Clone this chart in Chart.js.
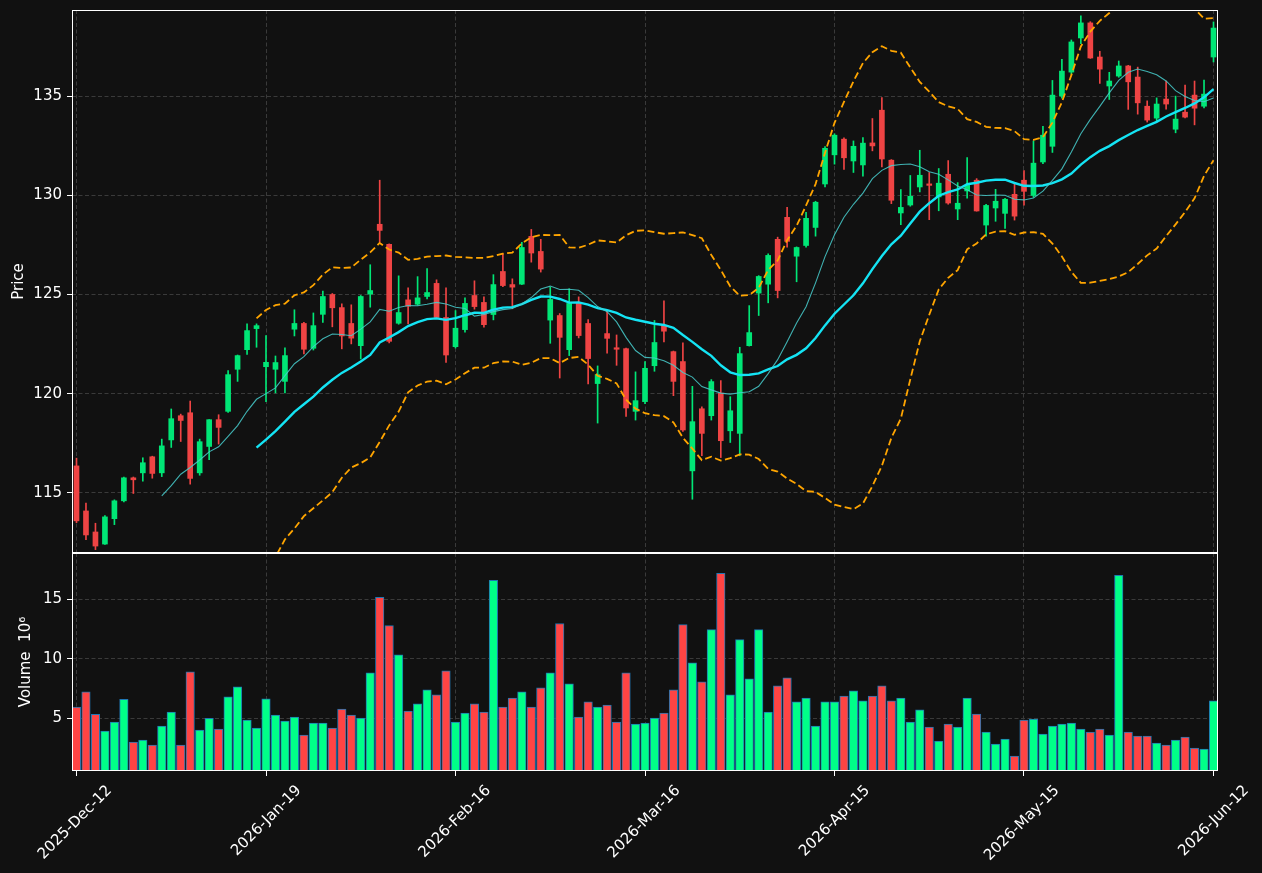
<!DOCTYPE html>
<html>
<head>
<meta charset="utf-8">
<script src="https://cdn.jsdelivr.net/npm/chart.js@4.4.1/dist/chart.umd.min.js"></script>
<style>
html, body { margin: 0; padding: 0; background: #111111; }
body { width: 1262px; height: 873px; position: relative; overflow: hidden; }
canvas { position: absolute; left: 0; }
#price { top: 0; width: 1262px; height: 553px; }
#vol { top: 553px; width: 1262px; height: 320px; }
</style>
</head>
<body>
<canvas id="price" width="1262" height="553"></canvas>
<canvas id="vol" width="1262" height="320"></canvas>
<script>
// ---- data ----
const tickLabels = ['2025-Dec-12', '2026-Jan-19', '2026-Feb-16', '2026-Mar-16', '2026-Apr-15', '2026-May-15', '2026-Jun-12'];
const tickIndex = [0, 20, 40, 60, 80, 100, 120];

const opens = [
  116.36, 114.09, 113.03, 112.42, 113.70, 114.60, 115.76, 116.01, 116.82, 116.01,
  117.67, 118.89, 119.04, 116.01, 117.34, 118.69, 119.11, 121.23, 122.22, 123.28,
  121.36, 121.23, 120.62, 123.25, 123.54, 122.29, 124.00, 125.00, 124.34, 123.54,
  122.42, 125.02, 128.54, 127.53, 123.55, 124.73, 124.51, 124.90, 125.56, 123.84,
  122.37, 123.23, 124.95, 124.60, 123.99, 126.16, 125.50, 125.52, 127.93, 127.17,
  123.71, 123.94, 122.22, 124.60, 123.54, 120.51, 123.03, 122.31, 122.27, 119.11,
  119.60, 121.41, 123.43, 122.12, 121.62, 116.11, 119.24, 118.89, 120.03, 118.13,
  118.00, 122.42, 125.07, 125.52, 127.78, 128.89, 126.93, 127.47, 128.38, 130.57,
  132.04, 132.83, 131.73, 131.53, 132.64, 134.29, 131.77, 129.11, 129.51, 130.42,
  130.54, 129.92, 131.06, 129.31, 130.22, 130.76, 128.50, 129.36, 129.09, 130.05,
  130.76, 129.99, 131.68, 132.47, 135.00, 136.21, 137.93, 138.69, 136.97, 135.51,
  136.01, 136.52, 135.96, 134.49, 133.89, 134.85, 133.33, 134.19, 135.05, 134.49,
  136.97
];
const highs = [
  116.75, 114.48, 113.47, 113.85, 114.65, 115.80, 115.80, 116.77, 116.85, 117.71,
  119.23, 118.97, 119.63, 117.71, 118.70, 118.94, 121.16, 121.95, 123.52, 123.52,
  122.93, 121.90, 122.31, 124.23, 123.60, 124.07, 125.17, 125.05, 124.53, 124.48,
  124.95, 126.50, 130.76, 127.55, 125.94, 125.34, 125.90, 126.30, 125.74, 125.34,
  124.19, 124.83, 125.69, 124.88, 126.00, 127.05, 125.79, 127.63, 128.28, 127.78,
  125.37, 124.04, 125.29, 124.88, 123.74, 121.40, 124.16, 122.96, 122.30, 121.10,
  121.62, 123.69, 124.68, 122.15, 122.56, 120.37, 119.34, 120.71, 120.66, 119.85,
  122.34, 124.44, 125.95, 127.05, 127.89, 129.39, 127.40, 129.14, 129.70, 132.45,
  133.10, 132.90, 132.74, 132.91, 133.87, 134.93, 131.80, 130.29, 131.00, 132.27,
  131.15, 131.35, 131.75, 130.64, 131.90, 130.84, 129.55, 130.30, 129.85, 130.59,
  131.25, 132.74, 133.48, 135.79, 136.85, 137.83, 139.04, 138.75, 137.26, 136.20,
  136.77, 136.55, 136.46, 134.76, 134.91, 135.76, 135.00, 135.56, 135.76, 135.81,
  138.74
];
const lows = [
  113.50, 112.64, 112.14, 112.40, 113.40, 114.55, 114.97, 115.59, 115.74, 115.82,
  117.29, 117.59, 115.44, 115.89, 116.68, 117.46, 119.05, 120.62, 121.98, 122.34,
  119.60, 120.04, 120.04, 122.91, 122.00, 122.20, 123.59, 123.37, 122.26, 122.51,
  121.75, 124.36, 127.64, 122.56, 123.50, 123.52, 124.46, 124.78, 123.80, 121.58,
  122.30, 123.10, 124.26, 123.35, 123.72, 125.40, 124.28, 125.50, 126.63, 126.13,
  122.54, 120.79, 121.92, 122.81, 120.49, 118.52, 122.04, 121.43, 118.85, 118.67,
  119.50, 121.13, 122.61, 119.90, 118.10, 114.68, 116.87, 118.67, 116.78, 117.54,
  116.87, 122.40, 123.94, 124.58, 124.83, 127.39, 125.64, 127.39, 127.94, 130.42,
  131.57, 131.30, 131.15, 130.96, 132.24, 131.43, 129.58, 128.52, 129.45, 130.17,
  128.77, 129.22, 129.55, 128.77, 129.86, 129.20, 127.94, 128.69, 128.33, 128.75,
  129.50, 129.90, 131.60, 132.16, 134.90, 136.10, 137.64, 136.90, 135.64, 134.83,
  135.95, 134.33, 134.09, 133.69, 133.74, 134.34, 133.15, 133.90, 133.55, 134.40,
  136.72
];
const closes = [
  113.59, 112.88, 112.32, 113.79, 114.60, 115.76, 115.66, 116.52, 115.98, 117.37,
  118.74, 118.65, 115.73, 117.58, 118.69, 118.30, 120.96, 121.92, 123.18, 123.43,
  121.58, 121.57, 121.92, 123.54, 122.24, 123.43, 124.90, 124.33, 122.91, 122.80,
  124.90, 125.20, 128.23, 122.64, 124.09, 124.41, 124.83, 125.10, 123.84, 121.95,
  123.30, 124.55, 124.39, 123.48, 125.50, 125.45, 125.37, 127.37, 127.09, 126.28,
  124.75, 122.84, 124.55, 122.93, 121.77, 120.96, 122.79, 122.24, 119.28, 119.65,
  121.28, 122.58, 123.15, 120.62, 118.17, 118.59, 118.00, 120.61, 117.63, 119.14,
  122.02, 123.08, 125.91, 126.97, 125.20, 127.68, 127.37, 128.84, 129.65, 132.37,
  133.03, 131.89, 132.47, 132.63, 132.49, 131.83, 129.75, 129.39, 129.95, 131.01,
  130.50, 130.61, 129.61, 129.60, 130.50, 129.21, 129.49, 129.70, 129.80, 128.95,
  130.20, 131.62, 133.03, 135.05, 136.26, 137.73, 138.69, 136.92, 136.36, 135.76,
  136.52, 135.72, 134.66, 133.79, 134.60, 134.60, 133.84, 133.94, 134.39, 135.10,
  138.43
];
const volumes = [
  5.93, 7.20, 5.31, 3.90, 4.66, 6.58, 2.97, 3.14, 2.71, 4.32,
  5.51, 2.71, 8.90, 3.98, 4.97, 4.07, 6.78, 7.63, 4.83, 4.15,
  6.61, 5.25, 4.75, 5.08, 3.56, 4.58, 4.58, 4.15, 5.76, 5.25,
  5.00, 8.81, 15.17, 12.80, 10.34, 5.59, 6.19, 7.37, 6.95, 8.98,
  4.66, 5.42, 6.19, 5.51, 16.61, 5.93, 6.69, 7.20, 5.93, 7.54,
  8.81, 12.97, 7.88, 5.08, 6.36, 5.93, 6.10, 4.66, 8.81, 4.49,
  4.58, 5.00, 5.42, 7.37, 12.88, 9.66, 8.05, 12.46, 17.20, 6.95,
  11.61, 8.31, 12.46, 5.51, 7.71, 8.39, 6.36, 6.69, 4.32, 6.36,
  6.36, 6.86, 7.29, 6.44, 6.86, 7.71, 6.44, 6.69, 4.66, 5.68,
  4.24, 3.05, 4.49, 4.24, 6.69, 5.34, 3.81, 2.80, 3.22, 1.78,
  4.83, 4.92, 3.64, 4.32, 4.49, 4.58, 4.07, 3.81, 4.07, 3.56,
  17.03, 3.81, 3.47, 3.47, 2.88, 2.71, 3.14, 3.39, 2.46, 2.37,
  6.44
];
const priceTicks = [115, 120, 125, 130, 135];
const volumeTicks = [5, 10, 15];
const maShort = 10;
const maLong = 20;

// ---- indicators derived from the closes ----
function rollingMean(arr, n) {
  return arr.map((_, i) => {
    if (i < n - 1) return null;
    let s = 0;
    for (let k = i - n + 1; k <= i; k++) s += arr[k];
    return s / n;
  });
}
function rollingStd(arr, n) {
  const m = rollingMean(arr, n);
  return arr.map((_, i) => {
    if (i < n - 1) return null;
    let s = 0;
    for (let k = i - n + 1; k <= i; k++) s += (arr[k] - m[i]) ** 2;
    return Math.sqrt(s / (n - 1));
  });
}
const ma10 = rollingMean(closes, maShort);
const ma20 = rollingMean(closes, maLong);
const sd20 = rollingStd(closes, maLong);
const bbUpper = ma20.map((m, i) => m === null ? null : m + 2 * sd20[i]);
const bbLower = ma20.map((m, i) => m === null ? null : m - 2 * sd20[i]);

// ---- styling ----
const UP = '#00e676', DOWN = '#ef4444';
const VOL_UP = '#00ff88', VOL_DOWN = '#ff4444';
const GRID = '#3a3a3a';
Chart.defaults.font.family = 'DejaVu Sans';
Chart.defaults.font.size = 15;
Chart.defaults.color = '#ffffff';

const idx = closes.map((_, i) => i);
const isUp = idx.map(i => closes[i] >= opens[i]);
const candleColors = isUp.map(u => u ? UP : DOWN);
const volColors = isUp.map(u => u ? VOL_UP : VOL_DOWN);

const frame = {
  id: 'frame',
  afterDraw(chart) {
    const { ctx, chartArea: a } = chart;
    ctx.save();
    ctx.strokeStyle = '#ffffff';
    ctx.lineWidth = 1;
    ctx.strokeRect(a.left + 0.5, a.top + 0.5, a.right - a.left - 1, a.bottom - a.top - 1);
    ctx.restore();
  }
};

const X_MIN = -0.475, X_MAX = 120.475;

function xScale(showLabels, height) {
  return {
    type: 'linear',
    min: X_MIN, max: X_MAX,
    offset: false,
    afterBuildTicks: s => { s.ticks = tickIndex.map(v => ({ value: v })); },
    afterFit: s => { s.height = height; s.paddingLeft = 0; s.paddingRight = 0; s.paddingTop = 0; s.paddingBottom = 0; },
    grid: {
      offset: false, color: GRID, lineWidth: 1,
      drawTicks: showLabels, tickLength: 5, tickColor: '#ffffff', tickWidth: 1, tickBorderDash: []
    },
    border: { display: false, dash: [4, 2.5] },
    ticks: {
      display: showLabels, autoSkip: false,
      minRotation: 45, maxRotation: 45,
      labelOffset: 33, padding: 6,
      font: { size: 15 }, color: '#ffffff',
      callback: v => tickLabels[tickIndex.indexOf(v)]
    }
  };
}
function yScale(min, max, ticks, title, titlePad) {
  return {
    type: 'linear', position: 'left',
    min: min, max: max,
    afterBuildTicks: s => { s.ticks = ticks.map(v => ({ value: v })); },
    afterFit: s => { s.width = 72; s.paddingTop = 0; s.paddingBottom = 0; s.paddingLeft = 0; s.paddingRight = 0; },
    grid: {
      color: GRID, lineWidth: 1, drawTicks: true, tickLength: 5,
      tickColor: '#ffffff', tickWidth: 1, tickBorderDash: []
    },
    border: { display: false, dash: [4, 2.5] },
    ticks: { padding: 5, color: '#ffffff', font: { size: 15 } },
    title: { display: true, text: title, color: '#ffffff', font: { size: 15 }, padding: { top: titlePad, bottom: 0 } }
  };
}

const common = {
  responsive: false,
  animation: false,
  devicePixelRatio: 1,
  events: [],
  plugins: { legend: { display: false }, tooltip: { enabled: false } }
};

new Chart(document.getElementById('price'), {
  type: 'bar',
  data: {
    datasets: [
      { type: 'line', label: 'MA' + maShort, data: idx.map(i => ({ x: i, y: ma10[i] })),
        borderColor: 'rgba(72,206,206,0.85)', borderWidth: 1.1, pointRadius: 0, tension: 0, clip: 0, order: 0 },
      { type: 'line', label: 'MA' + maLong, data: idx.map(i => ({ x: i, y: ma20[i] })),
        borderColor: '#14e4f4', borderWidth: 2.4, pointRadius: 0, tension: 0, clip: 0, order: 0 },
      { type: 'line', label: 'BB upper', data: idx.map(i => ({ x: i, y: bbUpper[i] })),
        borderColor: '#ffa500', borderWidth: 1.8, borderDash: [7, 3.5], pointRadius: 0, tension: 0, clip: 0, order: 0 },
      { type: 'line', label: 'BB lower', data: idx.map(i => ({ x: i, y: bbLower[i] })),
        borderColor: '#ffa500', borderWidth: 1.8, borderDash: [7, 3.5], pointRadius: 0, tension: 0, clip: 0, order: 0 },
      { type: 'bar', label: 'body', data: idx.map(i => ({ x: i, y: [Math.min(opens[i], closes[i]), Math.max(opens[i], closes[i])] })),
        backgroundColor: candleColors, borderWidth: 0, barThickness: 5, minBarLength: 1.5, grouped: false, order: 1 },
      { type: 'bar', label: 'wick', data: idx.map(i => ({ x: i, y: [lows[i], highs[i]] })),
        backgroundColor: candleColors, borderWidth: 0, barThickness: 1, grouped: false, order: 2 }
    ]
  },
  options: Object.assign({}, common, {
    layout: { padding: { left: 0, right: 44, top: 10, bottom: 0 } },
    scales: {
      x: xScale(false, 0),
      y: yScale(111.97, 139.34, priceTicks, 'Price', 10)
    }
  }),
  plugins: [frame]
});

new Chart(document.getElementById('vol'), {
  type: 'bar',
  data: {
    datasets: [
      { label: 'Volume', data: idx.map(i => ({ x: i, y: volumes[i] })),
        backgroundColor: volColors, borderColor: '#1f77b4', borderWidth: 1,
        barThickness: 8.5, grouped: false }
    ]
  },
  options: Object.assign({}, common, {
    layout: { padding: { left: 0, right: 44, top: 0, bottom: 0 } },
    scales: {
      x: xScale(true, 102),
      y: yScale(0.53, 18.92, volumeTicks, 'Volume  10\u2076', 17)
    }
  }),
  plugins: [frame]
});
</script>
</body>
</html>
